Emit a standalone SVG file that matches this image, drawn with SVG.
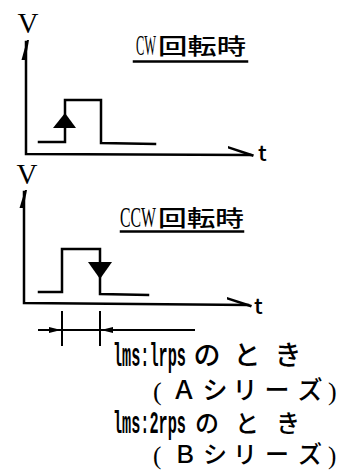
<svg xmlns="http://www.w3.org/2000/svg" width="338" height="471" viewBox="0 0 338 471">
<style>
.ln{stroke:#000;stroke-width:2.5;fill:none;stroke-linecap:square}
.thin{stroke:#000;stroke-width:2;fill:none}
.lat{font-family:"Liberation Serif","Noto Sans CJK JP",serif;fill:#000}
.mono{font-family:"Liberation Mono",monospace;font-weight:bold;fill:#000}
.jp{font-family:"Noto Sans CJK JP","Liberation Serif",sans-serif;fill:#000;font-weight:500}
</style>
<defs>
<marker id="ah" viewBox="0 0 12 8" refX="12" refY="4" markerWidth="12" markerHeight="8" markerUnits="userSpaceOnUse" orient="auto">
<path d="M0,1 L12,4 L0,7 Z" fill="#000"/>
</marker>
</defs>
<rect width="338" height="471" fill="#fff"/>

<g id="top-graph">
<text class="lat" x="28" y="33" font-size="29" text-anchor="middle">V</text>
<path class="ln" d="M26,42 L26,154 L250,155"/>
<polygon points="21.5,60 25.5,60 29,40 27,40" fill="#000"/>
<polygon points="228,146 254,154.5 253,157 228,148.5" fill="#000"/>
<text class="jp" x="258" y="161" font-size="22" font-weight="400">t</text>
</g>

<g id="top-title">
<text class="lat" transform="translate(136,55) scale(0.43,1)" font-size="29">CW</text>
<text class="jp" x="158" y="54" font-size="22" textLength="88" lengthAdjust="spacingAndGlyphs">回転時</text>
<line class="ln" x1="134" y1="61.5" x2="247" y2="61.5"/>
</g>

<g id="top-pulse">
<path class="ln" d="M39,142 L65,142 L65,100 L101,100 L101,143 L155,144"/>
<polygon points="65,113 76,128 53,128" fill="#000"/>
</g>

<g id="bottom-graph">
<text class="lat" x="27" y="184" font-size="29" text-anchor="middle">V</text>
<path class="ln" d="M24,192 L24,303 L248,305"/>
<polygon points="19.5,208 23.5,208 27,190 25,190" fill="#000"/>
<polygon points="227,297 252,305 251,307.5 227,299.5" fill="#000"/>
<text class="jp" x="254" y="314" font-size="22" font-weight="400">t</text>
</g>

<g id="bottom-title">
<text class="lat" transform="translate(120,227) scale(0.545,1)" font-size="29">CCW</text>
<text class="jp" x="158" y="226" font-size="22" textLength="86" lengthAdjust="spacingAndGlyphs">回転時</text>
<line class="ln" x1="121" y1="231.5" x2="243" y2="231.5"/>
</g>

<g id="bottom-pulse">
<path class="ln" d="M39,292 L62,292 L62,249 L100,249 L100,294 L148,295"/>
<polygon points="100,279 88,262 112,262" fill="#000"/>
</g>

<g id="connectors">
<line class="thin" x1="62" y1="311" x2="62" y2="346"/>
<line class="thin" x1="100" y1="311" x2="100" y2="346"/>
<line class="thin" x1="38" y1="330" x2="61" y2="330" marker-end="url(#ah)"/>
<line class="thin" x1="62" y1="330" x2="100" y2="330"/>
<line class="thin" x1="195" y1="330" x2="101" y2="330" marker-end="url(#ah)"/>
</g>

<g id="label-a">
<text class="mono" transform="translate(113,366) scale(1,2.2)" font-size="15.2">lms:lrps</text>
<text class="jp" font-size="27" y="365" text-anchor="middle"><tspan x="207">の</tspan><tspan x="247">と</tspan><tspan x="288">き</tspan></text>
<text class="lat" x="153" y="400" font-size="26">(</text>
<text class="jp" font-size="25" y="399" text-anchor="middle"><tspan x="184">Ａ</tspan><tspan x="215">シ</tspan><tspan x="245">リ</tspan><tspan x="277">ー</tspan><tspan x="310">ズ</tspan></text>
<text class="lat" x="328" y="400" font-size="26">)</text>
</g>

<g id="label-b">
<text class="mono" transform="translate(113,433) scale(1,2.05)" font-size="15.2">lms:2rps</text>
<text class="jp" font-size="24" y="432" text-anchor="middle"><tspan x="207">の</tspan><tspan x="247">と</tspan><tspan x="288">き</tspan></text>
<text class="lat" x="153" y="464" font-size="25">(</text>
<text class="jp" font-size="24" y="463" text-anchor="middle"><tspan x="185">Ｂ</tspan><tspan x="215">シ</tspan><tspan x="245">リ</tspan><tspan x="277">ー</tspan><tspan x="310">ズ</tspan></text>
<text class="lat" x="328" y="464" font-size="25">)</text>
</g>
</svg>
